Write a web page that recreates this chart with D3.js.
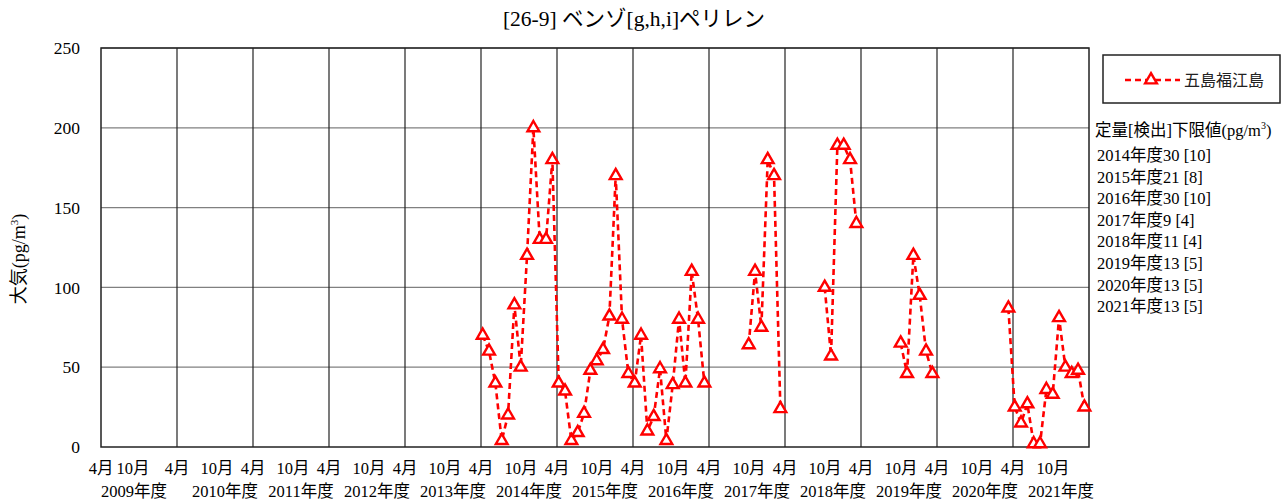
<!DOCTYPE html>
<html>
<head>
<meta charset="utf-8">
<script src="https://cdn.jsdelivr.net/npm/d3@7"></script>
<style>
  body { margin: 0; background: #fff; }
  svg text { font-family: "Liberation Serif", "Noto Sans CJK JP", serif; }
</style>
</head>
<body>
<div id="chart"></div>
<script>
// fiscal years on the x axis (April to March)
const fiscalYears = [2009, 2010, 2011, 2012, 2013, 2014, 2015, 2016, 2017, 2018, 2019, 2020, 2021];
const monthLabels = ["4月", "10月"];
const yTicks = [0, 50, 100, 150, 200, 250];

// monthly values, Apr..Mar, null = no measurement
const fy2014 = [70, 60, 40, 4, 20, 89, 50, 120, 200, 130, 130, 180];
const fy2015 = [40, 35, 4, 9, 21, 48, 54, 61, 82, 170, 80, 46];
const fy2016 = [40, 70, 10, 19, 49, 4, 39, 80, 40, 110, 80, 40];
const fy2017 = [null, null, null, null, null, null, 64, 110, 75, 180, 170, 24];
const fy2018 = [null, null, null, null, null, null, 100, 57, 189, 189, 180, 140];
const fy2019 = [null, null, null, null, null, null, 65, 46, 120, 95, 60, 46];
const fy2020 = [null, null, null, null, null, null, null, null, null, null, null, 87];
const fy2021 = [25, 15, 27, 2, 2, 36, 33, 81, 50, 46, 48, 25];

const seriesName = "五島福江島";
const limitTitle = "定量[検出]下限値(pg/m";
const limitLines = [
  "2014年度30 [10]",
  "2015年度21 [8]",
  "2016年度30 [10]",
  "2017年度9 [4]",
  "2018年度11 [4]",
  "2019年度13 [5]",
  "2020年度13 [5]",
  "2021年度13 [5]"
];

const yearValues = { 2014: fy2014, 2015: fy2015, 2016: fy2016, 2017: fy2017,
                     2018: fy2018, 2019: fy2019, 2020: fy2020, 2021: fy2021 };

// one point per month since April 2009
const data = [];
fiscalYears.forEach((fy, i) => {
  const vals = yearValues[fy] || new Array(12).fill(null);
  vals.forEach((v, m) => data.push({ month: i * 12 + m, value: v }));
});

const width = 1284, height = 502;
const plotL = 101, plotR = 1089, plotT = 48, plotB = 447;

const svg = d3.select("#chart").append("svg")
  .attr("width", width)
  .attr("height", height);

const x = d3.scaleLinear().domain([0, fiscalYears.length * 12]).range([plotL, plotR]);
const y = d3.scaleLinear().domain([0, 250]).range([plotB, plotT]);

// horizontal grid
svg.append("g")
  .selectAll("line")
  .data(yTicks.slice(1))
  .join("line")
  .attr("x1", plotL).attr("x2", plotR)
  .attr("y1", d => y(d)).attr("y2", d => y(d))
  .attr("stroke", "#808080")
  .attr("stroke-width", 1.2);

// vertical year lines
svg.append("g")
  .selectAll("line")
  .data(d3.range(1, fiscalYears.length))
  .join("line")
  .attr("x1", d => x(d * 12)).attr("x2", d => x(d * 12))
  .attr("y1", plotT).attr("y2", plotB)
  .attr("stroke", "#222")
  .attr("stroke-width", 1.2);

// frame
svg.append("rect")
  .attr("x", plotL).attr("y", plotT)
  .attr("width", plotR - plotL).attr("height", plotB - plotT)
  .attr("fill", "none")
  .attr("stroke", "#222")
  .attr("stroke-width", 1.5);

// y axis labels
const yAxis = d3.axisLeft(y).tickValues(yTicks).tickSize(0).tickPadding(21);
const yg = svg.append("g").attr("transform", `translate(${plotL},0)`).call(yAxis);
yg.select(".domain").remove();
yg.selectAll("text")
  .attr("font-size", 17.5)
  .attr("fill", "#000");

// x labels: 4月 at year start, 10月 mid year, then fiscal year
const xl = svg.append("g").attr("font-size", 16.5).attr("fill", "#000");
fiscalYears.forEach((fy, i) => {
  const first = i === 0;
  xl.append("text")
    .attr("x", x(i * 12)).attr("y", 474)
    .attr("text-anchor", "middle")
    .text(monthLabels[0]);
  xl.append("text")
    .attr("x", x(i * 12 + 6) + (first ? -6 : 2)).attr("y", 474)
    .attr("text-anchor", "middle")
    .text(monthLabels[1]);
  xl.append("text")
    .attr("x", x(i * 12 + 6) + (first ? -5 : 10)).attr("y", 497)
    .attr("text-anchor", "middle")
    .text(fy + "年度");
});

// y title
svg.append("text")
  .attr("transform", "translate(25,259) rotate(-90)")
  .attr("text-anchor", "middle")
  .attr("font-size", 18)
  .call(t => {
    t.append("tspan").text("大気(pg/m");
    t.append("tspan").attr("font-size", 11).attr("dy", -7).text("3");
    t.append("tspan").attr("dy", 7).text(")");
  });

// title
svg.append("text")
  .attr("x", 634).attr("y", 26)
  .attr("text-anchor", "middle")
  .attr("font-size", 21.5)
  .text("[26-9] ベンゾ[g,h,i]ペリレン");

// series
const px = d => x(d.month + 0.27);
const line = d3.line()
  .defined(d => d.value !== null)
  .x(px)
  .y(d => y(d.value));

svg.append("path")
  .datum(data)
  .attr("fill", "none")
  .attr("stroke", "#ff0000")
  .attr("stroke-width", 2.6)
  .attr("stroke-dasharray", "6,4")
  .attr("d", line);

const tri = d3.symbol().type(d3.symbolTriangle).size(60);
svg.append("g")
  .selectAll("path")
  .data(data.filter(d => d.value !== null))
  .join("path")
  .attr("transform", d => `translate(${px(d)},${y(d.value)})`)
  .attr("d", tri)
  .attr("fill", "#fff")
  .attr("stroke", "#ff0000")
  .attr("stroke-width", 2.4);

// legend
const lg = svg.append("g");
lg.append("rect")
  .attr("x", 1103).attr("y", 55)
  .attr("width", 177).attr("height", 48)
  .attr("fill", "#fff")
  .attr("stroke", "#222")
  .attr("stroke-width", 1.5);
lg.append("line")
  .attr("x1", 1125).attr("x2", 1180)
  .attr("y1", 80).attr("y2", 80)
  .attr("stroke", "#ff0000")
  .attr("stroke-width", 2.6)
  .attr("stroke-dasharray", "6,4");
lg.append("path")
  .attr("transform", "translate(1151,80)")
  .attr("d", tri)
  .attr("fill", "#fff")
  .attr("stroke", "#ff0000")
  .attr("stroke-width", 2.4);
lg.append("text")
  .attr("x", 1184).attr("y", 86)
  .attr("font-size", 16)
  .style("font-family", '"Noto Sans CJK JP", sans-serif')
  .attr("fill", "#222")
  .text(seriesName);

// detection limit notes
const notes = svg.append("g").attr("font-size", 16.5).attr("fill", "#000");
notes.append("text")
  .attr("x", 1095).attr("y", 136)
  .call(t => {
    t.append("tspan").text(limitTitle);
    t.append("tspan").attr("font-size", 10).attr("dy", -7).text("3");
    t.append("tspan").attr("dy", 7).text(")");
  });
notes.selectAll("text.l")
  .data(limitLines)
  .join("text")
  .attr("class", "l")
  .attr("x", 1097)
  .attr("y", (d, i) => 161 + i * 21.6)
  .text(d => d);
</script>
</body>
</html>
